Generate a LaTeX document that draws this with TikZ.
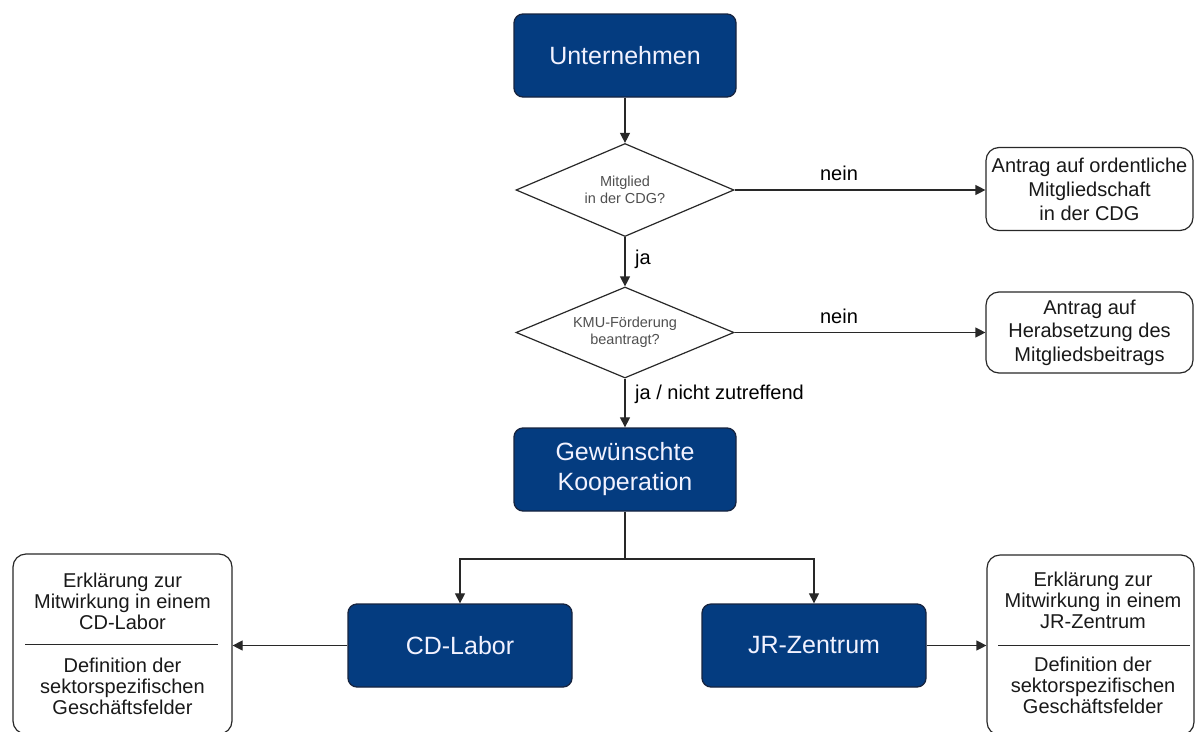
\documentclass[tikz,border=0pt]{standalone}
\usepackage{fontspec}
\setmainfont{Liberation Sans}
\usetikzlibrary{shapes.geometric,arrows.meta}
\definecolor{boxblue}{RGB}{4,60,128}
\definecolor{boxedge}{RGB}{22,36,64}
\definecolor{linegray}{RGB}{40,40,40}
\definecolor{smalltext}{RGB}{80,80,80}
\definecolor{bodytext}{RGB}{25,25,25}
\begin{document}
\begin{tikzpicture}[x=1pt,y=-1pt,
  bluebox/.style={draw=boxedge, line width=1.3pt, fill=boxblue, rounded corners=9pt,
    minimum width=222pt, minimum height=83pt, inner sep=0pt, text=white!95!blue,
    align=center, font=\fontsize{25pt}{30pt}\selectfont},
  decision/.style={diamond, aspect=2.34, draw=linegray, line width=1.2pt, inner sep=0pt,
    minimum width=218pt, minimum height=93pt, text=smalltext, align=center,
    font=\fontsize{14.5pt}{17pt}\selectfont},
  whitebox/.style={draw=linegray, line width=1.2pt, fill=white, rounded corners=13pt,
    inner sep=0pt, text=bodytext, align=center},
  boxtext/.style={text=bodytext, align=center, inner sep=0pt,
    font=\fontsize{20pt}{21pt}\selectfont},
  lbl/.style={text=black, inner sep=0pt, font=\fontsize{20pt}{24pt}\selectfont},
  conn/.style={draw=linegray, line width=1.2pt},
  arr/.style={conn, -{Triangle[length=10pt,width=10pt]}}
]
\useasboundingbox (0,0) rectangle (1196,731);
\clip (0,0) rectangle (1196,731);
\fill[white] (0,0) rectangle (1196,731);

% main column
\node[bluebox] (u) at (625,55.5) {Unternehmen};
\node[decision] (d1) at (625,190) {Mitglied\\in der CDG?};
\node[decision, minimum height=91pt] (d2) at (625,332.5) {KMU-F\"orderung\\beantragt?};
\node[bluebox] (g) at (625,469.5) {Gew\"unschte\\Kooperation};
\node[bluebox, minimum width=224pt] (cd) at (460,645.5) {CD-Labor};
\node[bluebox, minimum width=224pt] (jr) at (814,645.5) {JR-Zentrum};

% right boxes
\node[whitebox, minimum width=207pt, minimum height=83pt,
  font=\fontsize{20pt}{24pt}\selectfont] (r1) at (1089.5,189)
  {Antrag auf ordentliche\\Mitgliedschaft\\in der CDG};
\node[whitebox, minimum width=207pt, minimum height=81pt,
  font=\fontsize{20pt}{23.5pt}\selectfont] (r2) at (1089.5,332.5)
  {Antrag auf\\Herabsetzung des\\Mitgliedsbeitrags};

% bottom boxes
\node[whitebox, minimum width=219pt, minimum height=180pt] (lb) at (122.5,644) {};
\draw[conn, line width=1pt] (25,644) -- (218,644);
\node[boxtext] (lbt) at (122.5,601) {Erkl\"arung zur\\Mitwirkung in einem\\CD-Labor};
\node[boxtext] (lbb) at (122.5,686) {Definition der\\sektorspezifischen\\Gesch\"aftsfelder};

\node[whitebox, minimum width=207pt, minimum height=180pt] (rb) at (1090.5,645) {};
\draw[conn, line width=1pt] (998,645) -- (1190,645);
\node[boxtext] (rbt) at (1093,600.5) {Erkl\"arung zur\\Mitwirkung in einem\\JR-Zentrum};
\node[boxtext] (rbb) at (1093,685.5) {Definition der\\sektorspezifischen\\Gesch\"aftsfelder};

% connectors
\draw[arr] (u.south) -- (d1.north);
\draw[arr] (d1.south) -- (d2.north);
\draw[arr] (d2.south) -- (g.north);
\draw[arr] (d1.east) -- (d1.east -| r1.west);
\draw[arr] (d2.east) -- (d2.east -| r2.west);
\coordinate (split) at (625,559);
\draw[conn] (g.south) -- (split);
\draw[arr] (split) -| (cd.north);
\draw[arr] (split) -| (jr.north);
\draw[arr] (cd.west) -- (cd.west -| lb.east);
\draw[arr] (jr.east) -- (jr.east -| rb.west);

% labels
\node[lbl] (nein1) at (839,173) {nein};
\node[lbl] (nein2) at (839,316) {nein};
\node[lbl, anchor=west] (ja) at (635,259) {ja};
\node[lbl, anchor=west] (janz) at (635,394) {ja / nicht zutreffend};
\end{tikzpicture}
\end{document}
